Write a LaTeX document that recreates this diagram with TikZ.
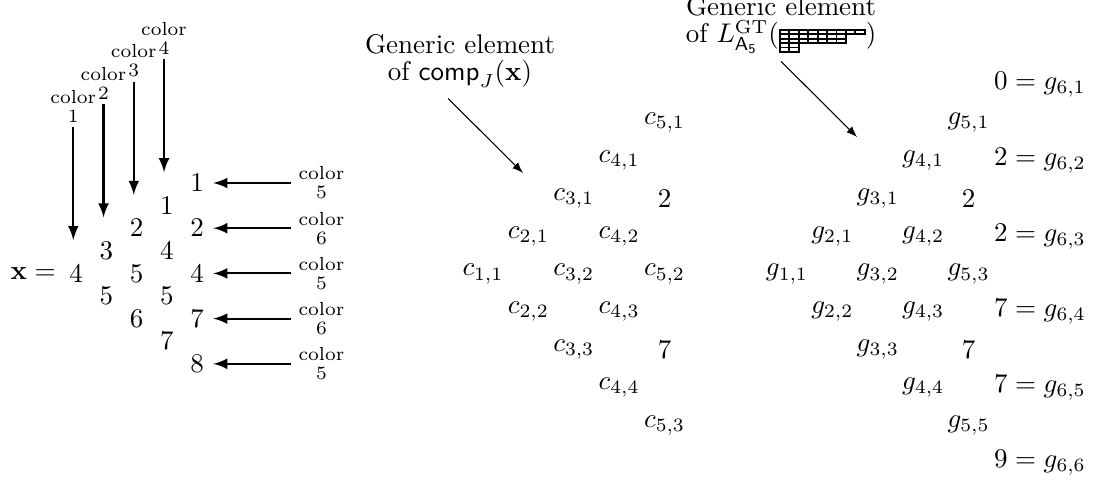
\documentclass[tikz,border=0pt]{standalone}
\usepackage{amsmath}
\usetikzlibrary{positioning}
\tikzset{%
  >=latex,
  colorlbl/.style={font=\scriptsize, align=center, inner sep=1pt},
  colarrow/.style={->, thick},
  genlbl/.style={align=center},
}
\newcommand\yngGT{%
  \tikz[baseline={(0,-4.8pt)}, x=3.5pt, y=-1.63pt, line width=0.7pt]{%
    \foreach \r/\n in {1/9,2/7,3/7,4/2,5/2}
      \foreach \c in {1,...,\n}
        \draw (\c-1,\r-1) rectangle (\c,\r);}%
}

\begin{document}
\begin{tikzpicture}[x=0.3704pt, y=-0.3704pt]
  %% some definitions
  \def\xo{76} % first column of x
  \def\xs{30.25}
  \def\yo{183} % first row of x
  \def\ys{22.6}
  \def\cxo{483} % first column of c
  \def\gxo{787} % first column of g
  \def\ts{45.4}
  \def\ty{85} % top row of the triangles
  \def\tdy{37.8}

  \useasboundingbox (0,0) rectangle (1094,481);

  %% the pattern x
  \foreach \j/\k/\v in {1/1/4, 2/1/3, 2/2/5, 3/1/2, 3/2/5, 3/3/6, 4/1/1,
      4/2/4, 4/3/5, 4/4/7, 5/1/1, 5/2/2, 5/3/4, 5/4/7, 5/5/8}
    \node (x\j\k) at ({\xo+(\j-1)*\xs}, {\yo+(3-\j+2*\k)*\ys}) {$\v$};
  \node[left=-2pt of x11] (xeq) {$\mathbf{x} =$};

  % colors of the columns
  \foreach \j in {1,...,4} {
    \node[colorlbl, above=48pt of x\j1, xshift=-1pt] (cv\j) {color\\[-1pt]\j};
    \draw[colarrow, shorten <=0.5pt, shorten >=5.6pt] (cv\j.south) -- (cv\j.south |- x\j1.north);
  }
  % colors of the rows
  \foreach \k/\c in {1/5, 2/6, 3/5, 4/6, 5/5} {
    \node[colorlbl, right=30.4pt of x5\k] (ch\k) {color\\[-1pt]\c};
    \draw[colarrow, shorten <=1.5pt] (ch\k.west) -- (x5\k.east);
  }

  %% generic element of comp_J(x)
  \foreach \j in {1,...,4}
    \foreach \k in {1,...,\j}
      \node (c\j\k) at ({\cxo+(\j-1)*\ts}, {\ty+(4-\j+2*\k)*\tdy}) {$c_{\j,\k}$};
  \foreach \k/\v in {1/{c_{5,1}}, 2/2, 3/{c_{5,2}}, 4/7, 5/{c_{5,3}}}
    \node (c5\k) at ({\cxo+4*\ts}, {\ty+(2*\k-1)*\tdy}) {$\v$};

  %% generic element of L^GT
  \foreach \j in {1,...,4}
    \foreach \k in {1,...,\j}
      \node (g\j\k) at ({\gxo+(\j-1)*\ts}, {\ty+(4-\j+2*\k)*\tdy}) {$g_{\j,\k}$};
  \foreach \k/\v in {1/{g_{5,1}}, 2/2, 3/{g_{5,3}}, 4/7, 5/{g_{5,5}}}
    \node (g5\k) at ({\gxo+4*\ts}, {\ty+(2*\k-1)*\tdy}) {$\v$};
  \foreach \k/\v in {1/0, 2/2, 3/2, 4/7, 5/7, 6/9}
    \node (g6\k) at (1040, {\ty+(2*\k-2)*\tdy}) {$\v = g_{6,\k}$};

  %% labels
  \node[genlbl] (lblc) at (460,61) {Generic element\\[-2pt]of $\mathsf{comp}_J(\mathbf{x})$};
  \node[genlbl] (lblg) at (781,25) {Generic element\\[-2pt]of $L^{\mathrm{GT}}_{\mathsf{A_5}}(\yngGT)$};
  \coordinate (cptr) at (523,173);
  \coordinate (gptr) at (857,137);
  \draw[->] ([xshift=-4.4pt,yshift=-0.6pt]lblc.south) -- (cptr);
  \draw[->] ([yshift=0.5pt]lblg.south) -- (gptr);
\end{tikzpicture}
\end{document}
